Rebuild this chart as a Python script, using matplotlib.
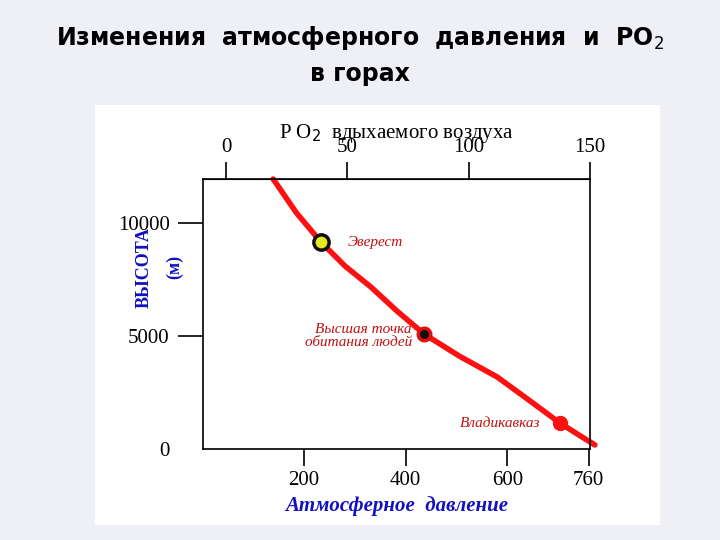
import matplotlib
matplotlib.use("Agg")
import matplotlib.pyplot as plt
from matplotlib.patches import Rectangle

# curve: PO2 of inhaled air (mm Hg) vs altitude (m)
po2 = [19.4, 29.0, 39.1, 49.0, 59.8, 70.5, 81.6, 96.0, 111.7, 125.0, 137.6, 146.0, 152.0]
alt = [11950, 10450, 9160, 8100, 7160, 6100, 5090, 4120, 3190, 2150, 1150, 580, 180]

pressure_ticks = [200, 400, 600, 760]
po2_ticks = [0, 50, 100, 150]
alt_ticks = [0, 5000, 10000]

points = {
    "Эверест": (39.1, 9160),
    "Высшая точка\nобитания людей": (81.6, 5090),
    "Владикавказ": (137.6, 1150),
}

def p_to_po2(p):
    return 0.2095 * (p - 47)

fig = plt.figure(figsize=(7.2, 5.4), dpi=100)
fig.patch.set_facecolor("#eef0f6")
fig.add_artist(Rectangle((95 / 720, 15 / 540), 565 / 720, 420 / 540, zorder=-10,
                         transform=fig.transFigure, facecolor="white", edgecolor="none"))
fig.text(0.5, 0.955, "Изменения  атмосферного  давления  и  РО$_2$", ha="center", va="top",
         fontsize=17, fontweight="bold", family="DejaVu Sans")
fig.text(0.5, 0.885, "в горах", ha="center", va="top", fontsize=17, fontweight="bold",
         family="DejaVu Sans")

serif = "Liberation Serif"
ax = fig.add_axes([0.282, 0.1685, 0.5375, 0.5])
ax.set_xlim(-9.5, 150)
ax.set_ylim(0, 11950)
ax.plot(po2, alt, color="#ff1010", lw=4, clip_on=False, solid_capstyle="round")

(x, y) = points["Эверест"]
ax.plot(x, y, "o", ms=11, mfc="#e8e820", mec="#101010", mew=2.5, zorder=5)
ax.text(x + 11, y, "Эверест", color="#c01010", fontsize=11, style="italic", family=serif, va="center")
(x, y) = points["Высшая точка\nобитания людей"]
ax.plot(x, y, "o", ms=9, mfc="#101010", mec="#e01010", mew=2.5, zorder=5)
ax.text(x - 5, y - 100, "Высшая точка\nобитания людей", color="#c01010", fontsize=11,
        style="italic", family=serif, va="center", ha="right", linespacing=1.0)
(x, y) = points["Владикавказ"]
ax.plot(x, y, "o", ms=10, mfc="#ff1010", mec="#ff1010", zorder=5)
ax.text(x - 8, y, "Владикавказ", color="#c01010", fontsize=11, style="italic", family=serif,
        va="center", ha="right")

ax.set_xticks([p_to_po2(p) for p in pressure_ticks])
ax.set_xticklabels([str(p) for p in pressure_ticks], fontsize=15, family=serif)
ax.set_yticks(alt_ticks)
ax.set_yticklabels([str(a) for a in alt_ticks], fontsize=15, family=serif)
ax.tick_params(axis="x", length=12, width=1.2, pad=4)
ax.tick_params(axis="y", length=18, width=1.2, pad=6)
ax.yaxis.get_major_ticks()[0].tick1line.set_visible(False)
ax.get_yticklabels()[0].set_y(-800)

top = ax.secondary_xaxis("top")
top.set_xticks(po2_ticks)
top.set_xticklabels([str(t) for t in po2_ticks], fontsize=15, family=serif)
top.tick_params(length=12, width=1.2)
top.set_xlabel("P O$_2$  вдыхаемого воздуха", fontsize=15, family=serif, labelpad=0)

ax.set_xlabel("Атмосферное  давление", fontsize=15, family=serif, style="italic",
              fontweight="bold", color="#1010c0", labelpad=4)
fig.text(0.2, 0.505, "ВЫСОТА", rotation=90, ha="center", va="center", fontsize=13,
         family=serif, fontweight="bold", color="#1010c0")
fig.text(0.243, 0.505, "(м)", rotation=90, ha="center", va="center", fontsize=13,
         family=serif, fontweight="bold", color="#1010c0")

for s in ax.spines.values():
    s.set_linewidth(1.2)

fig.savefig("out.png", dpi=100)
